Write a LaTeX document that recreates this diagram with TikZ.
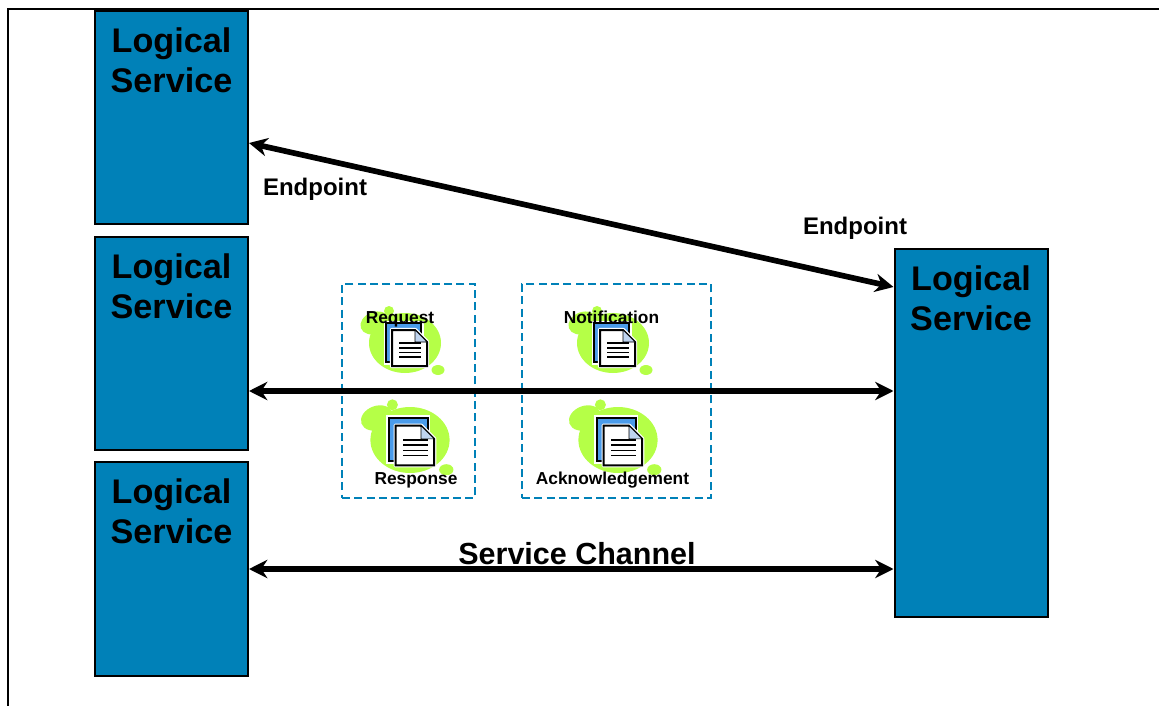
\documentclass[tikz,border=0pt]{standalone}
\usepackage{fontspec}
\setmainfont{Liberation Sans}
\usepackage{tikz}
\usetikzlibrary{positioning}
\usetikzlibrary{arrows.meta}
\definecolor{lsblue}{HTML}{0081B8}
\definecolor{blobgreen}{HTML}{B5FF47}
\definecolor{docblue}{HTML}{4A9BEA}
\definecolor{foldblue}{HTML}{BFD4F0}
\tikzset{
  lsbox/.style={draw=black, fill=lsblue, line width=1.2pt, minimum width=91.8pt, inner sep=0pt},
  lstext/.style={font=\fontsize{20.5}{24}\selectfont\bfseries, align=center, inner sep=0pt},
  msgbox/.style={draw=lsblue, dashed, dash pattern=on 4.8pt off 2.6pt, line width=0.8pt, inner sep=0pt},
  msgtext/.style={font=\fontsize{10.4}{12}\selectfont\bfseries, inner sep=0pt},
  eptext/.style={font=\fontsize{14.4}{17}\selectfont\bfseries, inner sep=0pt},
  chtext/.style={font=\fontsize{18.3}{22}\selectfont\bfseries, inner sep=0pt},
  channel/.style={line width=3.4pt, {Stealth[length=11pt,width=11pt]}-{Stealth[length=11pt,width=11pt]}},
  docicon/.pic={
    \fill[blobgreen] (0,0) ellipse (36 and 30);
    \fill[blobgreen, rotate around={20:(-30,-20)}] (-30,-20) ellipse (15 and 11);
    \fill[blobgreen] (-16,-32) circle (5);
    \fill[blobgreen] (33,27) ellipse (6.5 and 5);
    \fill[white] (-21.5,-22.5) rectangle (18.5,21.5);
    \filldraw[fill=docblue, draw=black, line width=1.2pt] (-19,-20) rectangle (16,19);
    \draw[white, line width=2.6pt, fill=white, line join=round] (-13,-13) -- (10,-13) -- (22,-1) -- (22,23) -- (-13,23) -- cycle;
    \filldraw[fill=white, draw=black, line width=1.2pt] (-13,-13) -- (10,-13) -- (22,-1) -- (22,23) -- (-13,23) -- cycle;
    \filldraw[fill=foldblue, draw=black, line width=0.4pt] (10,-13) -- (10,-1) -- (22,-1) -- cycle;
    \draw[line width=1pt] (-6,0) -- (16,0);
    \draw[line width=1pt] (-6,4.7) -- (16,4.7);
    \draw[line width=1pt] (-6,9.4) -- (16,9.4);
    \draw[line width=1pt] (-6,14) -- (16,14);
  }
}
\begin{document}
\begin{tikzpicture}[x=0.6pt, y=-0.6pt]
\useasboundingbox (0,0) rectangle (1159,706);
% outer frame
\coordinate (F1) at (8,706);
\coordinate (F2) at (8,9);
\coordinate (F3) at (1159,9);
\draw[line width=1.5pt] (F1) -- (F2) -- (F3);
% services
\node[lsbox, minimum height=127.8pt] (LS1) at (171.5,117.5) {};
\node[lsbox, minimum height=127.8pt] (LS2) at (171.5,343.5) {};
\node[lsbox, minimum height=128.4pt] (LS3) at (171.5,569) {};
\node[lsbox, minimum height=220.8pt] (RS) at (971,433) {};
\node[lstext, below=10.5pt of LS1.north] (LS1T) {Logical\\Service};
\node[lstext, below=10.5pt of LS2.north] (LS2T) {Logical\\Service};
\node[lstext, below=10.5pt of LS3.north] (LS3T) {Logical\\Service};
\node[lstext, below=10.5pt of RS.north] (RST) {Logical\\Service};
% messages
\node[msgbox, minimum width=79.8pt, minimum height=128.4pt] (MB1) at (408.5,391) {};
\node[msgbox, minimum width=113.4pt, minimum height=128.4pt] (MB2) at (616.5,391) {};
\pic (D1) at (405,343) {docicon};
\pic[scale=1.1] (D2) at (410,440) {docicon};
\pic (D3) at (613,343) {docicon};
\pic[scale=1.1] (D4) at (618,440) {docicon};
\node[msgtext] (M1) at (400,319) {Request};
\node[msgtext] (M2) at (416,480) {Response};
\node[msgtext] (M3) at (611.5,317) {Notification};
\node[msgtext] (M4) at (612.5,480) {Acknowledgement};
% channels
\coordinate (C1) at (0,143);
\coordinate (C2) at (0,287);
\coordinate (C3) at (0,391);
\draw[channel] (LS1.east |- C1) -- (RS.west |- C2);
\draw[channel] (LS2.east |- C3) -- (RS.west |- C3);
\draw[channel] (LS3.east) -- (RS.west |- LS3.east);
\node[eptext] (EP1) at (315,189) {Endpoint};
\node[eptext] (EP2) at (855,228) {Endpoint};
\node[chtext] (CH) at (577,554) {Service Channel};
\end{tikzpicture}
\end{document}
